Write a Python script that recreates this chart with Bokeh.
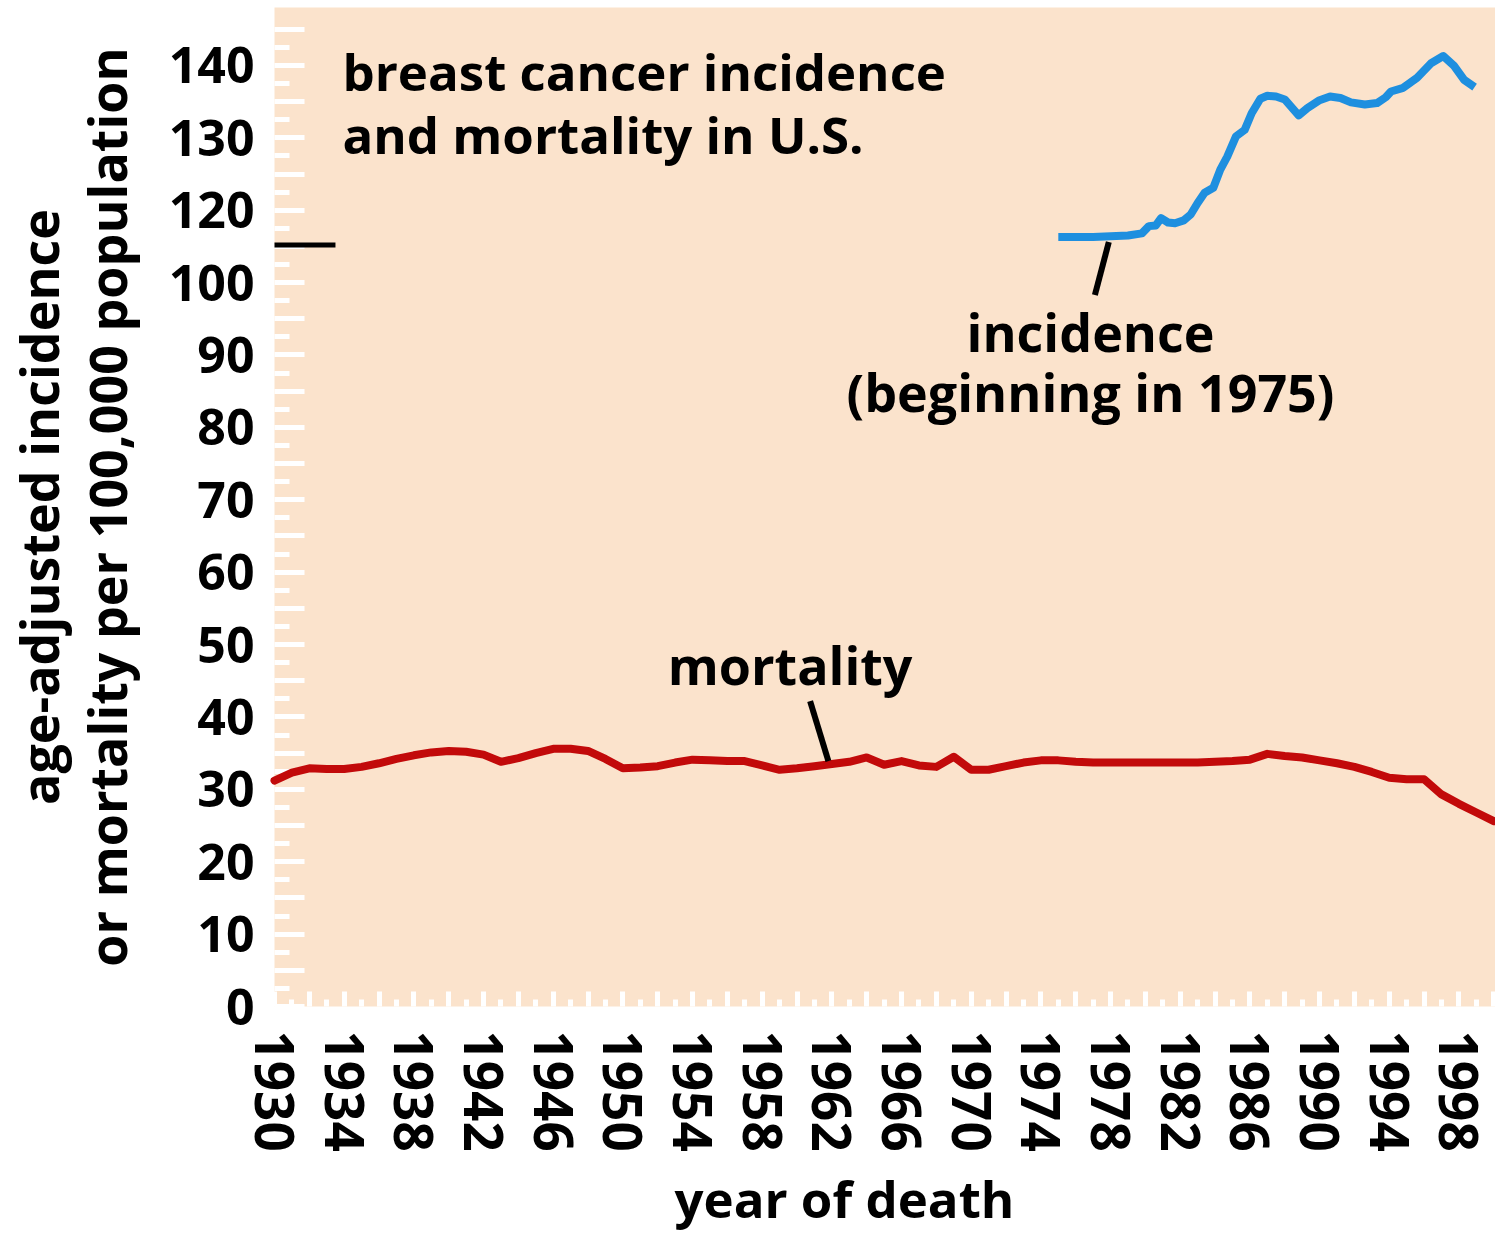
from bokeh.plotting import figure
from bokeh.models import Range1d, FixedTicker, Label, Title, LinearAxis
from bokeh.embed import file_html
from bokeh.resources import INLINE

# ---------------- data ----------------
mort_years = [1930, 1931, 1932, 1933, 1934, 1935, 1936, 1937, 1938, 1939,
              1940, 1941, 1942, 1943, 1944, 1945, 1946, 1947, 1948, 1949,
              1950, 1951, 1952, 1953, 1954, 1955, 1956, 1957, 1958, 1959,
              1960, 1961, 1962, 1963, 1964, 1965, 1966, 1967, 1968, 1969,
              1970, 1971, 1972, 1973, 1974, 1975, 1976, 1977, 1978, 1979,
              1980, 1981, 1982, 1983, 1984, 1985, 1986, 1987, 1988, 1989,
              1990, 1991, 1992, 1993, 1994, 1995, 1996, 1997, 1998, 1999, 2000]
mortality = [31.2, 32.3, 32.9, 32.8, 32.8, 33.1, 33.6, 34.2, 34.7, 35.1,
             35.3, 35.2, 34.8, 33.8, 34.3, 35.0, 35.6, 35.6, 35.3, 34.2,
             32.9, 33.0, 33.2, 33.7, 34.1, 34.0, 33.9, 33.9, 33.3, 32.7,
             32.9, 33.2, 33.5, 33.8, 34.4, 33.4, 33.9, 33.3, 33.1, 34.5,
             32.7, 32.7, 33.2, 33.7, 34.0, 34.0, 33.8, 33.7, 33.7, 33.7,
             33.7, 33.7, 33.7, 33.7, 33.8, 33.9, 34.1, 34.9, 34.6, 34.4,
             34.0, 33.6, 33.1, 32.4, 31.6, 31.4, 31.4, 29.3, 28.0, 26.8, 25.6]

inc_years = [1975.0, 1976.0, 1977.0, 1978.0, 1979.0, 1979.8, 1980.2, 1980.6,
             1980.9, 1981.3, 1981.7, 1982.2, 1982.6, 1983.0, 1983.4, 1983.9,
             1984.3, 1984.7, 1985.2, 1985.7, 1986.1, 1986.6, 1987.0, 1987.5,
             1988.0, 1988.8, 1989.3, 1990.0, 1990.6, 1991.2, 1991.8, 1992.6,
             1993.3, 1993.8, 1994.1, 1994.8, 1995.6, 1996.0, 1996.4, 1997.1,
             1997.7, 1998.3, 1998.9]
incidence = [116.3, 116.3, 116.3, 116.4, 116.5, 116.8, 117.8, 117.9,
             118.9, 118.3, 118.2, 118.6, 119.4, 121.0, 122.4, 123.1,
             125.6, 127.4, 130.2, 131.1, 133.4, 135.4, 135.8, 135.7,
             135.3, 133.1, 134.1, 135.2, 135.7, 135.5, 134.9, 134.6,
             134.8, 135.6, 136.4, 136.9, 138.3, 139.3, 140.3, 141.3,
             140.0, 138.0, 137.0]

# y axis has a break: values above it are drawn 10 units lower
AXIS_BREAK_SHIFT = 10
y_tick_values = [0, 10, 20, 30, 40, 50, 60, 70, 80, 90, 100, 120, 130, 140]
x_label_years = list(range(1930, 2000, 4))

# annotation anchors (x in years, y in drawn units)
inc_leader = ([1977.9, 1977.1], [105.6, 98.3])
mort_leader = ([1960.75, 1961.8], [42.2, 33.9])
break_mark = (1930.0, 1933.5, 105.2)

FONT = "Open Sans"
PEACH = "#fbe3cc"
BLUE = "#1e8fdf"
RED = "#c20a0a"

inc_drawn = [v - AXIS_BREAK_SHIFT for v in incidence]

p = figure(width=1495, height=1243, output_backend="svg", toolbar_location=None,
           x_range=Range1d(1930, 2000.1), y_range=Range1d(0, 138.0),
           min_border_left=272, min_border_right=0, min_border_top=7,
           min_border_bottom=237, x_axis_location=None, y_axis_location=None)
p.background_fill_color = PEACH
p.border_fill_color = "white"
p.outline_line_color = None
p.xgrid.visible = False
p.ygrid.visible = False

# ---- y axis ----
y_major = [i * 5 for i in range(0, 28)]
y_minor = [i * 5 + 2.5 for i in range(0, 27)]
y_over = {}
drawn_for_label = {}
for t in y_tick_values:
    d = t if t <= 100 else t - AXIS_BREAK_SHIFT
    drawn_for_label[d] = str(t)
for m in y_major:
    y_over[m] = drawn_for_label.get(m, "")
yax = LinearAxis(ticker=FixedTicker(ticks=y_major, minor_ticks=y_minor),
                 major_label_overrides=y_over,
                 axis_label="age-adjusted incidence\nor mortality per 100,000 population")
yax.axis_line_color = None
yax.major_tick_in = 30
yax.major_tick_out = 0
yax.minor_tick_in = 15
yax.minor_tick_out = 0
yax.major_tick_line_color = "white"
yax.minor_tick_line_color = "white"
yax.major_tick_line_width = 5
yax.minor_tick_line_width = 5
yax.major_label_text_font = FONT
yax.major_label_text_font_style = "bold"
yax.major_label_text_font_size = "50px"
yax.major_label_text_color = "black"
yax.major_label_standoff = 20
yax.axis_label_text_font = FONT
yax.axis_label_text_font_style = "bold"
yax.axis_label_text_font_size = "52px"
yax.axis_label_text_color = "black"
yax.axis_label_standoff = 24
yax.axis_label_text_line_height = 0.95
p.add_layout(yax, "left")

# ---- x axis ----
x_major = list(range(1930, 2001, 2))
x_minor = list(range(1931, 2001, 2))
x_over = {yr: (str(yr) if yr in x_label_years else "") for yr in x_major}
xax = LinearAxis(ticker=FixedTicker(ticks=x_major, minor_ticks=x_minor),
                 major_label_overrides=x_over)
xax.axis_line_color = None
xax.major_tick_in = 15
xax.major_tick_out = 0
xax.minor_tick_in = 7
xax.minor_tick_out = 0
xax.major_tick_line_color = "white"
xax.minor_tick_line_color = "white"
xax.major_tick_line_width = 5
xax.minor_tick_line_width = 5
xax.major_label_text_font = FONT
xax.major_label_text_font_style = "bold"
xax.major_label_text_font_size = "53px"
xax.major_label_text_color = "black"
xax.major_label_orientation = "vertical"
xax.major_label_standoff = 24
p.add_layout(xax, "below")

xtitle = Title(text="year of death", align="left", offset=400,
               text_font=FONT, text_font_style="bold", text_font_size="51px",
               text_color="black", standoff=12)
p.add_layout(xtitle, "below")

# ---- data lines ----
p.line(mort_years, mortality, line_color=RED, line_width=8,
       line_join="round", line_cap="round", level="overlay")
p.line(inc_years, inc_drawn, line_color=BLUE, line_width=8,
       line_join="round", line_cap="butt", level="overlay")

# ---- annotations ----
p.line(inc_leader[0], inc_leader[1], line_color="black", line_width=6, level="overlay")
p.line(mort_leader[0], mort_leader[1], line_color="black", line_width=6, level="overlay")
p.segment(x0=[break_mark[0]], y0=[break_mark[2]], x1=[break_mark[1]], y1=[break_mark[2]],
          line_color="black", line_width=5, level="overlay")

def add_text(x, y, txt, align, size="52px"):
    p.add_layout(Label(x=x, y=y, text=txt, text_font=FONT, text_font_style="bold",
                       text_font_size=size, text_color="black",
                       text_align=align, text_baseline="alphabetic"))

add_text(1933.9, 129.2, "breast cancer incidence", "left", "51px")
add_text(1933.9, 120.5, "and mortality in U.S.", "left", "51px")
add_text(1976.85, 93.3, "incidence", "center")
add_text(1976.85, 85.0, "(beginning in 1975)", "center")
add_text(1959.6, 47.3, "mortality", "center")

open("out.html", "w").write(file_html(p, INLINE))
